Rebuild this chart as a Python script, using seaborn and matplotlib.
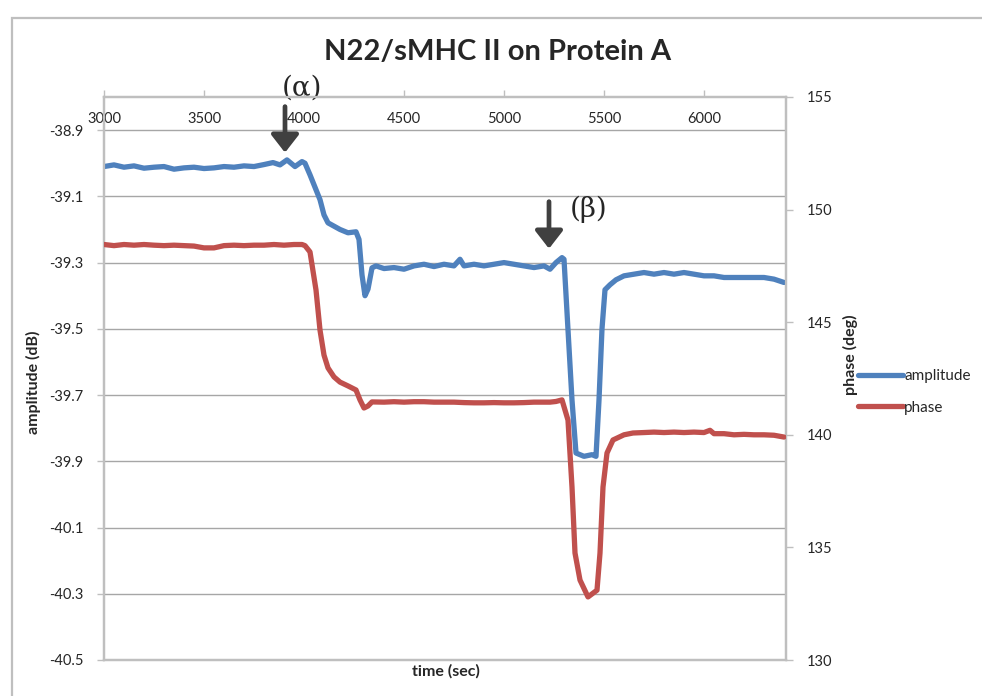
import numpy as np
import pandas as pd
import matplotlib
matplotlib.use("Agg")
import matplotlib.pyplot as plt
from matplotlib.lines import Line2D
from matplotlib.patches import Rectangle
import seaborn as sns

# ---------------- data ----------------
amp_time = [3000, 3050, 3100, 3150, 3200, 3250, 3300, 3350, 3400, 3450, 3500,
            3550, 3600, 3650, 3700, 3750, 3800, 3845, 3880, 3915, 3955, 3990,
            4005, 4030, 4060, 4080, 4100, 4120, 4150, 4180, 4220, 4260, 4275,
            4290, 4305, 4320, 4340, 4360, 4400, 4450, 4500, 4550, 4600, 4650,
            4700, 4750, 4780, 4800, 4850, 4900, 4950, 5000, 5050, 5100, 5150,
            5200, 5230, 5260, 5290, 5300, 5320, 5340, 5360, 5400, 5440, 5460,
            5475, 5490, 5505, 5530, 5560, 5600, 5650, 5700, 5750, 5800, 5850,
            5900, 5950, 6000, 6050, 6100, 6150, 6200, 6250, 6300, 6350, 6400]
amp_db = [-39.010, -39.005, -39.012, -39.008, -39.015, -39.012, -39.010, -39.018,
          -39.014, -39.012, -39.016, -39.014, -39.010, -39.012, -39.008, -39.010,
          -39.004, -38.998, -39.005, -38.990, -39.010, -38.995, -39.000, -39.035,
          -39.080, -39.110, -39.156, -39.180, -39.190, -39.200, -39.210, -39.207,
          -39.230, -39.337, -39.400, -39.380, -39.316, -39.310, -39.318, -39.315,
          -39.320, -39.310, -39.305, -39.312, -39.305, -39.310, -39.290, -39.310,
          -39.305, -39.310, -39.305, -39.300, -39.305, -39.310, -39.315, -39.310,
          -39.320, -39.300, -39.285, -39.290, -39.503, -39.715, -39.875, -39.885,
          -39.880, -39.885, -39.715, -39.500, -39.382, -39.367, -39.352, -39.340,
          -39.335, -39.330, -39.335, -39.330, -39.335, -39.330, -39.335, -39.340,
          -39.340, -39.345, -39.345, -39.345, -39.345, -39.345, -39.350, -39.360]

phase_time = [3000, 3050, 3100, 3150, 3200, 3250, 3300, 3350, 3400, 3450, 3500,
              3550, 3600, 3650, 3700, 3750, 3800, 3850, 3900, 3950, 3990, 4005,
              4030, 4060, 4080, 4100, 4120, 4150, 4180, 4220, 4260, 4280, 4300,
              4320, 4340, 4400, 4450, 4500, 4550, 4600, 4650, 4700, 4750, 4800,
              4850, 4900, 4950, 5000, 5050, 5100, 5150, 5200, 5230, 5260, 5290,
              5320, 5340, 5355, 5380, 5420, 5465, 5480, 5495, 5515, 5545, 5600,
              5645, 5700, 5750, 5800, 5850, 5900, 5950, 6000, 6030, 6050, 6100,
              6150, 6200, 6250, 6300, 6350, 6400]
phase_deg = [148.45, 148.40, 148.45, 148.42, 148.45, 148.42, 148.40, 148.42,
             148.40, 148.38, 148.30, 148.30, 148.40, 148.42, 148.40, 148.42,
             148.42, 148.45, 148.42, 148.45, 148.45, 148.40, 148.12, 146.43,
             144.65, 143.54, 142.97, 142.57, 142.34, 142.17, 141.99, 141.55,
             141.19, 141.28, 141.46, 141.45, 141.47, 141.45, 141.47, 141.47,
             141.45, 141.45, 141.45, 141.43, 141.42, 141.42, 141.43, 141.42,
             141.42, 141.43, 141.45, 141.45, 141.45, 141.48, 141.55, 140.65,
             137.68, 134.75, 133.55, 132.80, 133.10, 134.75, 137.68, 139.19,
             139.77, 140.00, 140.08, 140.10, 140.12, 140.10, 140.12, 140.10,
             140.12, 140.10, 140.20, 140.05, 140.05, 140.00, 140.02, 140.00,
             140.00, 139.98, 139.90]

series_names = ["amplitude", "phase"]
x_ticks = [3000, 3500, 4000, 4500, 5000, 5500, 6000]
amp_ticks = [-40.5, -40.3, -40.1, -39.9, -39.7, -39.5, -39.3, -39.1, -38.9]
phase_ticks = [130, 135, 140, 145, 150, 155]

amp_df = pd.DataFrame({"time": amp_time, "value": amp_db})
phase_df = pd.DataFrame({"time": phase_time, "value": phase_deg})

# ---------------- style ----------------
sns.set_theme(style="white")
plt.rcParams["font.family"] = ["Lato", "DejaVu Sans"]

BLUE = "#4F81BD"
RED = "#C0504D"
GRID = "#A6A6A6"
TXT = "#262626"

W, H = 982, 696
fig = plt.figure(figsize=(W / 100, H / 100), dpi=100)
L, R, T, B = 104, 786, 97, 660
ax = fig.add_axes([L / W, 1 - B / H, (R - L) / W, (B - T) / H])
ax2 = ax.twinx()

sns.lineplot(data=amp_df, x="time", y="value", ax=ax, color=BLUE,
             linewidth=3.8, solid_capstyle="round", zorder=3)
sns.lineplot(data=phase_df, x="time", y="value", ax=ax2, color=RED,
             linewidth=3.8, solid_capstyle="round", zorder=3)

ax.set_xlim(3000, 6410)
ax.set_ylim(-40.5, -38.8)
ax2.set_ylim(130, 155)

ax.set_xticks(x_ticks)
ax.set_yticks(amp_ticks)
ax.set_yticklabels([f"{v:.1f}" for v in amp_ticks])
ax2.set_yticks(phase_ticks)

ax.grid(axis="y", color=GRID, linewidth=1.0)
ax.grid(axis="x", visible=False)
ax2.grid(False)
ax.set_axisbelow(True)

for a in (ax, ax2):
    for s in a.spines.values():
        s.set_color("#BFBFBF")
        s.set_linewidth(1.6)

ax.xaxis.tick_top()
ax.tick_params(axis="x", top=True, bottom=False, labeltop=True, labelbottom=False,
               direction="out", length=5, width=1, color="#BFBFBF",
               pad=-26, labelsize=10.5, labelcolor=TXT)
ax.tick_params(axis="y", left=True, direction="out", length=5, width=1,
               color="#BFBFBF", labelsize=10.5, labelcolor=TXT, pad=10)
ax2.tick_params(axis="y", right=True, direction="out", length=5, width=1,
                color="#BFBFBF", labelsize=10.5, labelcolor=TXT, pad=10)

ax.set_xlabel("")
ax.set_ylabel("")
ax2.set_xlabel("")
ax2.set_ylabel("")

# axis titles
fig.text(33 / W, 1 - 382 / H, "amplitude (dB)", rotation=90, ha="center",
         va="center", fontsize=11.5, fontweight="bold", color=TXT)
fig.text(850 / W, 1 - 355 / H, "phase (deg)", rotation=90, ha="center",
         va="center", fontsize=11.5, fontweight="bold", color=TXT)
fig.text(446 / W, 1 - 671 / H, "time (sec)", ha="center", va="center",
         fontsize=11.5, fontweight="bold", color=TXT)

# title
fig.text(498 / W, 1 - 52 / H, "N22/sMHC II on Protein A", ha="center",
         va="center", fontsize=21, fontweight="bold", color=TXT)

# legend
handles = [Line2D([0], [0], color=BLUE, lw=3.8),
           Line2D([0], [0], color=RED, lw=3.8)]
fig.legend(handles, series_names, loc="center left",
           bbox_to_anchor=(858 / W, 1 - 392 / H), frameon=False,
           borderaxespad=0, borderpad=0,
           fontsize=11, handlelength=2.95, handletextpad=0.08,
           labelspacing=1.15, labelcolor=TXT)

# annotation arrows
arrow_kw = dict(arrowstyle="-|>,head_width=0.7,head_length=0.9",
                color="#404040", lw=3.4, shrinkA=0, shrinkB=0)
ax.annotate("", xy=(3905, -38.968), xytext=(3905, -38.829),
            arrowprops=arrow_kw, annotation_clip=False, zorder=5)
ax.annotate("", xy=(5225, -39.258), xytext=(5225, -39.116),
            arrowprops=arrow_kw, annotation_clip=False, zorder=5)
ax.text(3990, -38.772, "(α)", ha="center", va="center", fontsize=20,
        family=["DejaVu Serif"], color=TXT, clip_on=False)
ax.text(5425, -39.14, "(β)", ha="center", va="center", fontsize=20,
        family=["DejaVu Serif"], color=TXT, clip_on=False)

# chart border (top/left visible)
fig.patches.append(Rectangle((12 / W, -0.05), 1.2, 1 - 18 / H + 0.05,
                             transform=fig.transFigure, fill=False,
                             edgecolor="#BFBFBF", linewidth=1.6))

fig.savefig("out.png", dpi=100)
